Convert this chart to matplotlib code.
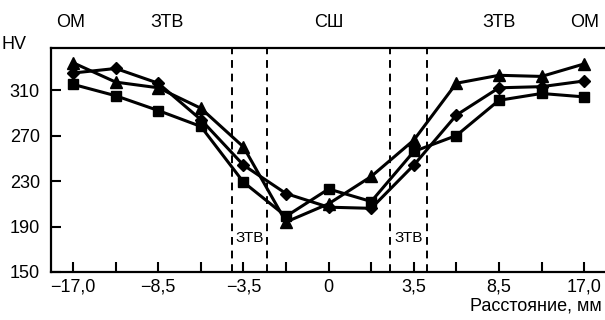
import matplotlib.pyplot as plt

plt.rcParams['font.family'] = ['Liberation Sans', 'DejaVu Sans']

# positions along the sample (equally spaced points)
tick_labels = ['−17,0', '', '−8,5', '', '−3,5', '', '0', '', '3,5', '', '8,5', '', '17,0']
pos = list(range(len(tick_labels)))

hv_triangle = [334, 317, 312, 294, 260, 194, 210, 234, 266, 316, 323, 322, 333]
hv_diamond = [325, 329, 316, 284, 244, 219, 207, 206, 244, 288, 312, 313, 318]
hv_square = [315, 305, 292, 278, 229, 199, 223, 212, 256, 270, 301, 307, 304]

zone_lines = [3.73, 4.55, 7.44, 8.31]
zone_names = ['ОМ', 'ЗТВ', 'СШ', 'ЗТВ', 'ОМ']
zone_pos = [-0.05, 2.2, 6.0, 10.0, 12.0]

fig = plt.figure(figsize=(6.05, 3.2), dpi=100)
ax = fig.add_axes([51/605, 0.15, 1 - 51/605, 0.70])

ax.plot(pos, hv_triangle, color='black', lw=2.2, marker='^', ms=8)
ax.plot(pos, hv_diamond, color='black', lw=2.2, marker='D', ms=6)
ax.plot(pos, hv_square, color='black', lw=2.2, marker='s', ms=6.5)

for x in zone_lines:
    ax.axvline(x, color='black', lw=1.4, ls=(0, (4, 3)))

ax.text((zone_lines[0] + zone_lines[1]) / 2, 0.15, 'ЗТВ', transform=ax.get_xaxis_transform(),
        ha='center', va='center', fontsize=11)
ax.text((zone_lines[2] + zone_lines[3]) / 2, 0.15, 'ЗТВ', transform=ax.get_xaxis_transform(),
        ha='center', va='center', fontsize=11)

for name, x in zip(zone_names, zone_pos):
    ax.text(x, 1.115, name, transform=ax.get_xaxis_transform(), ha='center', va='center', fontsize=13)

ax.set_xlim(-0.52, 12.49)
ax.set_ylim(150, 347)
ax.set_xticks(pos)
ax.set_xticklabels(tick_labels)
ax.set_yticks([150, 190, 230, 270, 310])
ax.tick_params(direction='in', length=7, width=1.5, labelsize=13, pad=5)
ax.tick_params(axis='y', pad=8)

ax.text(-0.045, 1.015, 'HV', transform=ax.transAxes, ha='right', va='center', fontsize=13)
ax.text(0.995, -0.112, 'Расстояние, мм', transform=ax.transAxes, ha='right', va='top', fontsize=13)

for side in ['left', 'top', 'bottom']:
    ax.spines[side].set_linewidth(1.6)
ax.spines['right'].set_visible(False)

fig.savefig('out.png', dpi=100)
